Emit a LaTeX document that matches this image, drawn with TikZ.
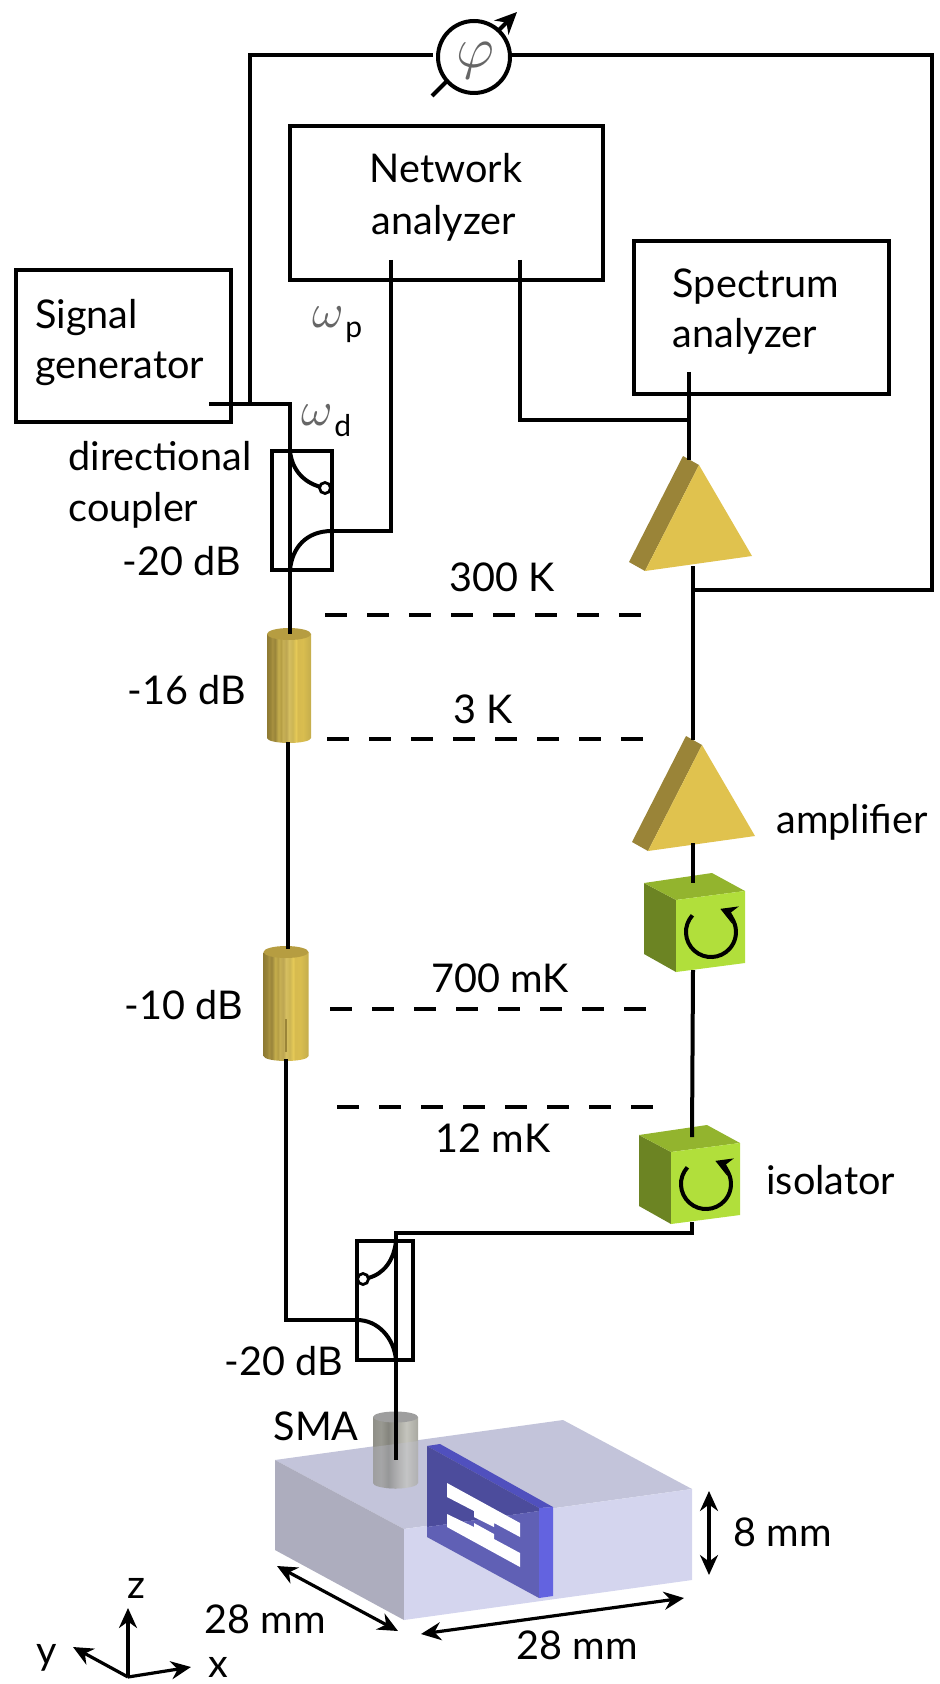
\documentclass[tikz,border=0pt]{standalone}
\usepackage{fontspec}
\setmainfont{Lato}
\usetikzlibrary{arrows.meta}
\definecolor{goldface}{HTML}{E0C24E}
\definecolor{goldside}{HTML}{9A8438}
\definecolor{limeface}{HTML}{B1DF3B}
\definecolor{limetop}{HTML}{93B42E}
\definecolor{limeside}{HTML}{6C8423}
\definecolor{blocktop}{HTML}{C3C4DA}
\definecolor{blockleft}{HTML}{ADADBE}
\definecolor{blockfront}{HTML}{D4D5EE}
\definecolor{chiptop}{HTML}{5050BE}
\definecolor{chipdark}{HTML}{4C4C9C}
\definecolor{chiplow}{HTML}{6060B5}
\definecolor{chipside}{HTML}{6363E0}
\pgfdeclarehorizontalshading{goldbar}{100bp}{
 rgb(0bp)=(.56,.48,.2);rgb(25bp)=(.56,.48,.2);rgb(29bp)=(.60,.52,.22);rgb(31bp)=(.66,.57,.25);rgb(34bp)=(.60,.52,.23);rgb(38bp)=(.77,.68,.30);
 rgb(41bp)=(.71,.62,.27);rgb(43bp)=(.78,.69,.33);rgb(47bp)=(.74,.65,.32);rgb(50bp)=(.84,.75,.38);rgb(54bp)=(.80,.71,.33);rgb(58bp)=(.90,.79,.34);rgb(60bp)=(.84,.73,.31);rgb(66bp)=(.85,.74,.31);
 rgb(75bp)=(.77,.68,.30);rgb(100bp)=(.77,.68,.30)}
\pgfdeclarehorizontalshading{greybar}{100bp}{
 rgb(0bp)=(.56,.56,.53);rgb(25bp)=(.56,.56,.53);rgb(34bp)=(.6,.6,.57);rgb(42bp)=(.52,.52,.49);
 rgb(52bp)=(.66,.66,.63);rgb(62bp)=(.77,.77,.74);rgb(75bp)=(.66,.66,.63);rgb(100bp)=(.66,.66,.63)}
\tikzset{
 x=0.5pt,y=-0.5pt,
 wire/.style={line width=2pt,line cap=butt,line join=miter},
 box/.style={draw,line width=2pt,rectangle,inner sep=0pt,outer sep=0pt},
 txt/.style={font=\fontsize{19.8}{24}\selectfont,inner sep=0pt,anchor=base},
 lab/.style={font=\fontsize{19.8}{24}\selectfont,inner sep=0pt,anchor=base west},
 labr/.style={font=\fontsize{19.8}{24}\selectfont,inner sep=0pt,anchor=base east},
 subl/.style={font=\fontsize{15}{16}\selectfont,inner sep=0pt,anchor=base west},
 thinmath/.style={inner sep=0pt,text=black!60},
 tempdash/.style={line width=1.75pt,dash pattern=on 11pt off 10pt},
 dimarrow/.style={line width=1.6pt,{Stealth[length=10pt,width=9pt]}-{Stealth[length=10pt,width=9pt]}},
 axisarrow/.style={line width=1.6pt,-{Stealth[length=10pt,width=9pt]}},
 pics/amp/.style={code={
  \fill[goldside] (0,0)--(16,9)--(-38,115)--(-54,106)--cycle;
  \fill[goldface] (16,9)--(69,100)--(-38,115)--cycle;}},
 pics/iso/.style={code={
  \fill[limeside] (0,0)--(32,17)--(32,89)--(0,71)--cycle;
  \fill[limetop] (0,0)--(68,-10)--(101,8)--(32,17)--cycle;
  \fill[limeface] (32,17)--(101,8)--(101,80)--(32,89)--cycle;
  \draw[line width=2pt,-{Stealth[length=8pt,width=9pt]}] (48.4,32.3) arc (222:-68:25);}},
 pics/atten/.style={code={
  \shade[shading=goldbar] (-#1,0) -- (-#1,104) arc (180:0:#1 and 5) -- (#1,0) -- cycle;
  \fill[goldside!60!goldface] (0,0) ellipse (#1 and 6);}},
}
\begin{document}
\begin{tikzpicture}
\useasboundingbox (0,0) rectangle (939,1684);
% block
\fill[blocktop] (275,1460)--(563,1420)--(692,1489)--(404,1529)--cycle;
\fill[blockleft] (275,1460)--(404,1529)--(404,1620)--(275,1550)--cycle;
\fill[blockfront] (404,1529)--(692,1489)--(692,1580)--(404,1620)--cycle;
% SMA
\shade[shading=greybar] (373,1417)--(373,1483) arc (180:0:22.5 and 5.5)--(418,1417)--cycle;
\fill[black!38] (395.5,1417) ellipse (22.5 and 5.5);
\fill[blocktop,opacity=.3] (373,1447) -- (418,1441) -- (418,1488) -- (373,1488) -- cycle;
% chip
\fill[chiptop] (427,1446)--(440,1444)--(553,1507)--(539,1508)--cycle;
\fill[chipdark] (427,1446)--(539,1508)--(539,1511)--(427,1527)--cycle;
\fill[chiplow] (427,1527)--(539,1511)--(539,1598)--(427,1537)--cycle;
\fill[chipside] (539,1508)--(553,1507)--(553,1596)--(539,1598)--cycle;
\fill[white] (447,1483)--(520,1523)--(520,1537)--(494,1523)--(494,1527)--(474,1517)--(474,1511)--(447,1497)--cycle;
\fill[white] (447,1514)--(474,1527)--(474,1523)--(494,1534)--(494,1539)--(520,1553)--(520,1567)--(447,1527)--cycle;
% components
\pic at (683,456) {amp};
\pic at (686,736) {amp};
\pic at (644,883) {iso};
\pic at (639,1135) {iso};
\pic at (289,634) {atten=22};
\pic at (286,952) {atten=22.5};
\draw[line width=1pt,goldside] (286,1019)--(286,1052);
% boxes
\node[box,minimum width=215pt/2,minimum height=152pt/2] (sig) at (123.5,346) {};
\node[box,minimum width=313pt/2,minimum height=154pt/2] (net) at (446.5,203) {};
\node[box,minimum width=255pt/2,minimum height=153pt/2] (spec) at (761.5,317.5) {};
\node[box,minimum width=60pt/2,minimum height=119pt/2,line width=1.75pt] (cup1) at (302,510.5) {};
\node[box,minimum width=56pt/2,minimum height=119pt/2,line width=1.75pt] (cup2) at (385,1300.5) {};
\node[circle,draw,line width=2pt,minimum size=36pt,inner sep=0pt,outer sep=0pt,fill=white] (phase) at (474,57) {};
\node[thinmath] (phi) at (475,61) {\scalebox{2.9}{$\varphi$}};
% named wire points
\coordinate (phL) at (433,55); \coordinate (phLc) at (250,55); \coordinate (phLe) at (250,404);
\coordinate (phR) at (510,55); \coordinate (phRc) at (932,55); \coordinate (phRd) at (932,590);
\coordinate (pa) at (432,96); \coordinate (pb) at (447,81); \coordinate (pc) at (499,30); \coordinate (pd) at (517,12);
\coordinate (sg) at (209,404); \coordinate (sgc) at (290,404); \coordinate (at1t) at (290,634);
\coordinate (c1a) at (290,451); \coordinate (c1b) at (325,488); \coordinate (c1c) at (290,570); \coordinate (c1d) at (332,531);
\coordinate (n1) at (391,260); \coordinate (n1c) at (391,531);
\coordinate (n2) at (520,260); \coordinate (n2c) at (520,420); \coordinate (n2e) at (688,420);
\coordinate (sp) at (688.5,372); \coordinate (a1t) at (688.5,460);
\coordinate (a1b) at (693,566); \coordinate (a1j) at (693,590); \coordinate (a2t) at (693,740);
\coordinate (a2b) at (693,843); \coordinate (i1t) at (693,883); \coordinate (i1b) at (693,970); \coordinate (i2t) at (692,1137);
\coordinate (i2b) at (692,1222); \coordinate (i2c) at (692,1233); \coordinate (c2t) at (396,1233); \coordinate (sma) at (396,1460);
\coordinate (at1b) at (288,742); \coordinate (at2t) at (288,949); \coordinate (at2b) at (286,1059); \coordinate (c2l) at (286,1320);
\coordinate (c2i) at (357,1320); \coordinate (c2a) at (396,1241); \coordinate (c2b) at (368,1278); \coordinate (c2c) at (396,1360);
% wires
\draw[wire] (phL)--(phLc)--(phLe);
\draw[wire] (phR)--(phRc)--(phRd)--(a1j);
\draw[wire] (pa)--(pb);
\draw[wire,-{Stealth[length=11pt,width=10pt]}] (pc)--(pd);
\draw[wire] (sg)--(sgc)--(at1t);
\draw[wire] (n1)--(n1c)--(c1d);
\draw[wire] (n2)--(n2c)--(n2e);
\draw[wire] (sp)--(a1t);
\draw[wire] (a1b)--(a2t);
\draw[wire] (a2b)--(i1t);
\draw[wire] (i1b)--(i2t);
\draw[wire] (i2b)--(i2c)--(c2t)--(sma);
\draw[wire] (at1b)--(at2t);
\draw[wire] (at2b)--(c2l)--(c2i);
\draw[wire] (c1a) .. controls (292,470) and (304,484) .. (c1b);
\draw[wire] (c1c) .. controls (292,548) and (306,531) .. (c1d);
\draw[wire] (c2a) .. controls (394,1260) and (384,1274) .. (c2b);
\draw[wire] (c2i) .. controls (378,1320) and (394,1338) .. (c2c);
\node[circle,draw,line width=1.4pt,fill=white,minimum size=5.5pt,inner sep=0pt] (t1) at (325,488) {};
\node[circle,draw,line width=1.4pt,fill=white,minimum size=5.5pt,inner sep=0pt] (t2) at (363,1279) {};
% temperature stages
\coordinate (d1a) at (325,615); \coordinate (d1b) at (647,615);
\coordinate (d2a) at (327,739); \coordinate (d2b) at (647,739);
\coordinate (d3a) at (330,1009); \coordinate (d3b) at (647,1009);
\coordinate (d4a) at (337,1107); \coordinate (d4b) at (653,1107);
\draw[tempdash] (d1a)--(d1b);
\draw[tempdash] (d2a)--(d2b);
\draw[tempdash] (d3a)--(d3b);
\draw[tempdash] (d4a)--(d4b);
% dimensions and axes
\coordinate (h8a) at (709,1491); \coordinate (h8b) at (709,1575);
\coordinate (wa) at (421,1634); \coordinate (wb) at (684,1598);
\coordinate (la) at (277,1566); \coordinate (lb) at (398,1631);
\coordinate (o) at (128,1677); \coordinate (oz) at (128,1608); \coordinate (oy) at (73,1647); \coordinate (ox) at (191,1667);
\draw[dimarrow] (h8a)--(h8b);
\draw[dimarrow] (wa)--(wb);
\draw[dimarrow] (la)--(lb);
\draw[axisarrow] (o)--(oz);
\draw[axisarrow] (o)--(oy);
\draw[axisarrow] (o)--(ox);
% text
\node[txt] (t-net) at (446,183) {Network};
\node[txt] (t-neta) at (444,235) {analyzer};
\node[txt] (t-sp) at (756,298) {Spectrum};
\node[txt] (t-spa) at (745,348) {analyzer};
\node[lab] (t-sg) at (35,329) {Signal};
\node[lab] (t-sgg) at (35,379) {generator};
\node[lab] (t-dc) at (68,470) {directional};
\node[lab] (t-dcc) at (68,521) {coupler};
\node[labr] (t-20a) at (241,575) {-20 dB};
\node[labr] (t-16) at (246,704) {-16 dB};
\node[labr] (t-10) at (243,1019) {-10 dB};
\node[labr] (t-20b) at (343,1375) {-20 dB};
\node[labr] (t-sma) at (359,1440) {SMA};
\node[txt] (t-300) at (502,591) {300 K};
\node[txt] (t-3) at (483,723) {3 K};
\node[txt] (t-700) at (500,992) {700 mK};
\node[txt] (t-12) at (493,1152) {12 mK};
\node[lab] (t-amp) at (776,833) {amplifier};
\node[lab] (t-iso) at (766,1194) {isolator};
\node[lab] (t-8) at (733,1546) {8 mm};
\node[txt] (t-28a) at (577,1659) {28 mm};
\node[txt] (t-28b) at (265,1633) {28 mm};
\node[txt] (t-z) at (136,1598) {z};
\node[txt] (t-y) at (47,1664) {y};
\node[txt] (t-x) at (218,1677) {x};
\node[thinmath] (wp) at (328,317) {\scalebox{2.4}{$\omega$}};
\node[subl] (wps) at (345,338) {p};
\node[thinmath] (wd) at (317,415) {\scalebox{2.4}{$\omega$}};
\node[subl] (wds) at (334,437) {d};
\end{tikzpicture}
\end{document}
